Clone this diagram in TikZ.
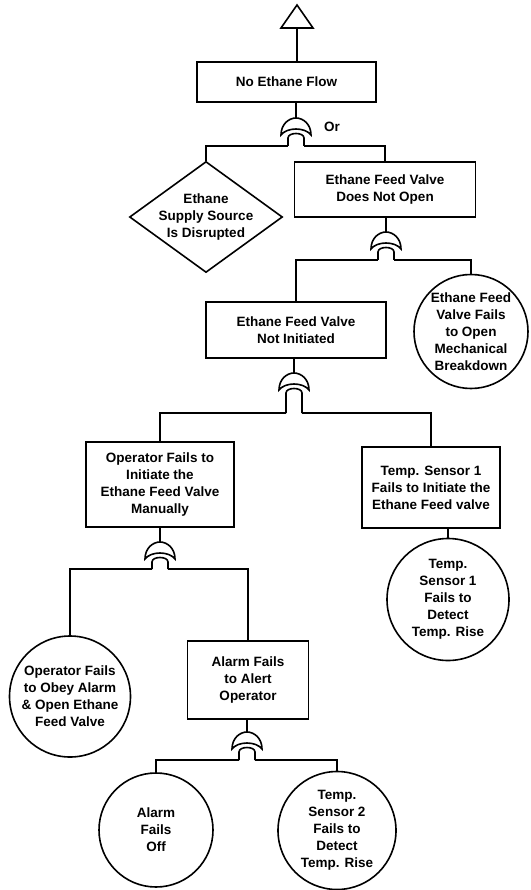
\documentclass[tikz,border=0pt]{standalone}
\usepackage{fontspec}
\setmainfont{Liberation Sans}
\usetikzlibrary{shapes.geometric}
\newcommand{\evfont}{\fontsize{13.5}{17}\selectfont\bfseries}
\tikzset{
  link/.style={line width=1.6pt},
  evbox/.style={rectangle, draw, line width=1.6pt, align=center,
    inner sep=2pt, font=\evfont},
  basicev/.style={circle, draw, line width=1.6pt, align=center,
    inner sep=-15pt, font=\evfont},
  undevev/.style={diamond, draw, line width=1.6pt, align=center,
    aspect=1.4, inner sep=-10pt, font=\evfont},
  % OR gate, origin at the apex; #1 = length of the legs
  pics/orgate/.style={code={
    \coordinate (-top) at (0,0);
    \draw[link] (-15,17) .. controls (-15,6) and (-7,0) .. (0,0)
      .. controls (7,0) and (15,6) .. (15,17)
      .. controls (9,9) and (-9,9) .. cycle;
    \draw[link] (-8,#1) -- (-8,20) .. controls (-8,14) and (8,14) .. (8,20)
      -- (8,#1);
    \coordinate (-lb) at (-8,#1);
    \coordinate (-rb) at (8,#1);
  }},
  pics/orgate/.default=28,
}

\begin{document}
\begin{tikzpicture}[x=1pt, y=-1pt]
  \useasboundingbox (0,0) rectangle (530,890);

  % Transfer symbol and top event
  \draw[link] (281,28) -- (297,5) -- (313,28) -- cycle;
  \coordinate (xfer) at (297,28);
  \node[evbox, minimum width=179, minimum height=40] (top) at (286.5,82)
    {No Ethane Flow};
  \draw[link] (top.north -| xfer) -- (xfer);

  % Second level
  \pic (g1) at (296,118) {orgate};
  \node[font=\evfont] (orlbl) at (332,127) {Or};
  \node[undevev, minimum width=153, minimum height=111] (supply) at (206,217)
    {Ethane\\Supply Source\\Is Disrupted};
  \node[evbox, minimum width=181, minimum height=55] (nopen) at (385,189.5)
    {Ethane Feed Valve\\Does Not Open};

  % Third level
  \pic (g2) at (386,232) {orgate};
  \node[evbox, minimum width=180, minimum height=56] (ninit) at (296,330)
    {Ethane Feed Valve\\Not Initiated};
  \node[basicev, minimum size=114] (mech) at (471,331.5)
    {Ethane Feed\\Valve Fails\\to Open\\Mechanical\\Breakdown};

  % Fourth level
  \pic (g3) at (294,373) {orgate=40};
  \node[evbox, minimum width=148, minimum height=85] (opman) at (160,484.5)
    {Operator Fails to\\Initiate the\\Ethane Feed Valve\\Manually};
  \node[evbox, minimum width=138, minimum height=81] (ts1init) at (431,487.5)
    {Temp. Sensor 1\\Fails to Initiate the\\Ethane Feed valve};
  \node[basicev, minimum size=122] (ts1det) at (448,599.5)
    {Temp.\\Sensor 1\\Fails to\\Detect\\Temp. Rise};

  % Operator branch
  \pic (g4) at (160,542) {orgate=27};
  \node[basicev, minimum size=121] (obey) at (70,696.5)
    {Operator Fails\\to Obey Alarm\\\& Open Ethane\\Feed Valve};
  \node[evbox, minimum width=121, minimum height=78] (alarm) at (248,680)
    {Alarm Fails\\to Alert\\Operator};

  % Alarm branch
  \pic (g5) at (247,732) {orgate};
  \node[basicev, minimum size=114] (alarmoff) at (156,830)
    {Alarm\\Fails\\Off};
  \node[basicev, minimum size=118] (ts2) at (337,830.5)
    {Temp.\\Sensor 2\\Fails to\\Detect\\Temp. Rise};

  % Connections
  \draw[link] (top.south -| g1-top) -- (g1-top);
  \draw[link] (g1-lb) -| (supply.north);
  \draw[link] (g1-rb) -| (nopen.north);
  \draw[link] (nopen.south -| g2-top) -- (g2-top);
  \draw[link] (g2-lb) -| (ninit.north);
  \draw[link] (g2-rb) -| (mech.north);
  \draw[link] (ninit.south -| g3-top) -- (g3-top);
  \draw[link] (g3-lb) -| (opman.north);
  \draw[link] (g3-rb) -| (ts1init.north);
  \draw[link] (ts1init.south -| ts1det.north) -- (ts1det.north);
  \draw[link] (opman.south -| g4-top) -- (g4-top);
  \draw[link] (g4-lb) -| (obey.north);
  \draw[link] (g4-rb) -| (alarm.north);
  \draw[link] (alarm.south -| g5-top) -- (g5-top);
  \draw[link] (g5-lb) -| (alarmoff.north);
  \draw[link] (g5-rb) -| (ts2.north);
\end{tikzpicture}
\end{document}
